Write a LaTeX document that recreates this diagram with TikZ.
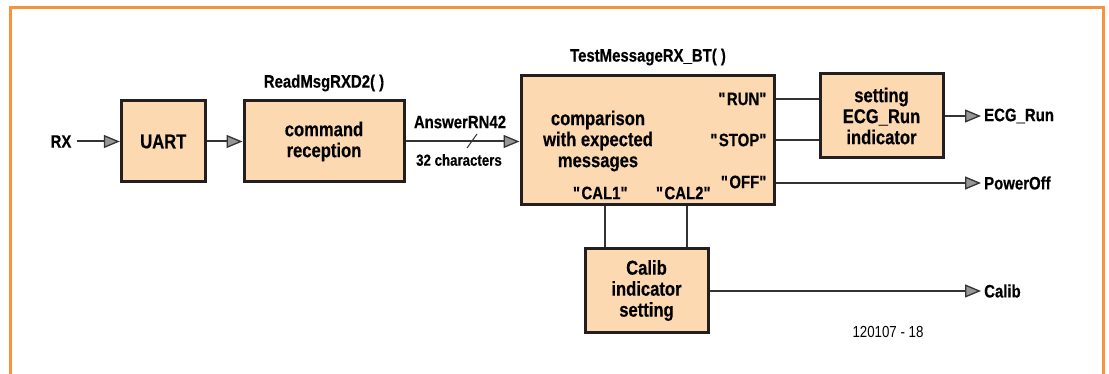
\documentclass[tikz,border=0pt]{standalone}
\usepackage{fontspec}
\setmainfont{Liberation Sans}[FakeStretch=0.83,BoldFeatures={FakeBold=0.4}]
\usepackage{tikz}
\usetikzlibrary{calc,positioning,arrows.meta}
\definecolor{peach}{RGB}{252,217,177}
\definecolor{framorange}{RGB}{247,146,62}
\definecolor{inkdark}{RGB}{35,31,32}
\definecolor{wiregray}{RGB}{51,51,51}
\definecolor{tipgray}{RGB}{150,150,150}
\newcommand\qtd[1]{\textquotedbl#1\textquotedbl}

\begin{document}
\begin{tikzpicture}[x=1pt,y=-1pt,
    blk/.style={draw=inkdark,line width=3pt,fill=peach,align=center,inner sep=0pt,
      font=\bfseries\fontsize{20}{21}\selectfont},
    lbl/.style={font=\bfseries\fontsize{18}{20}\selectfont,inner sep=0pt},
    outlbl/.style={lbl,anchor=west,inner sep=3pt},
    wire/.style={draw=wiregray,line width=2pt},
    sig/.style={wire,-{Triangle[length=16pt,width=13pt,fill=tipgray,line width=1.3pt]}}]
  \useasboundingbox (0,0) rectangle (1109,374);
  \draw[framorange,line width=3pt] (10.5,380) -- (10.5,7.5) -- (1103,7.5) -- (1103,380);

  \node[blk,minimum width=84pt,minimum height=81pt] (uart) at (163.3,141.5) {UART};
  \node[blk,minimum width=160pt,minimum height=81pt] (cmd) at (324,141.5) {command\\reception};
  \node[blk,minimum width=253pt,minimum height=129pt] (cmp) at (647.5,140.5) {};
  \node[blk,minimum width=123pt,minimum height=84pt] (set) at (881.5,116) {setting\\ECG\_Run\\indicator};
  \node[blk,minimum width=123pt,minimum height=83pt] (cal) at (646.5,290.5) {Calib\\indicator\\setting};

  \node[lbl] (rx) at (61,141.5) {RX};
  \node[lbl] (readlbl) at (324,83) {ReadMsgRXD2( )};
  \node[lbl] (testlbl) at (648,57) {TestMessageRX\_BT( )};
  \node[lbl] (answer) at (460,122) {AnswerRN42};
  \node[lbl,font=\bfseries\fontsize{16}{18}\selectfont] (chars) at (459,160) {32 characters};
  \node[blk,draw=none,fill=none] (cmptxt) at (598,141) {comparison\\with expected\\messages};
  \node[lbl,anchor=east] (run) at (768,99) {\qtd{RUN}};
  \node[lbl,anchor=east] (stop) at (768,140) {\qtd{STOP}};
  \node[lbl,anchor=east] (off) at (768,182) {\qtd{OFF}};
  \node[lbl] (cal1) at (601,193) {\qtd{CAL1}};
  \node[lbl] (cal2) at (684,193) {\qtd{CAL2}};
  \node[outlbl] (ecg) at (981,116) {ECG\_Run};
  \node[outlbl] (poff) at (981,183) {PowerOff};
  \node[outlbl] (calout) at (981,291) {Calib};
  \node[font=\fontsize{16}{18}\selectfont,inner sep=0pt] (fignum) at (888,332) {120107 - 18};

  \draw[sig] ([xshift=5pt]rx.east) -- (uart.west);
  \draw[sig] (uart) -- (cmd);
  \draw[sig] (cmd.east) -- (cmd.east -| cmp.west);
  \coordinate (slash) at (472,141);
  \draw[wire,line width=1pt] ([shift={(-5,7)}]slash) -- ([shift={(5,-7)}]slash);
  \draw[wire] (run.east -| cmp.east) -- (run.east -| set.west);
  \draw[wire] (stop.east -| cmp.east) -- (stop.east -| set.west);
  \draw[sig] (cmp.east |- poff.west) -- (poff.west);
  \draw[sig] (set.east |- ecg.west) -- (ecg.west);
  \draw[wire] ([xshift=4pt]cal1.center |- cmp.south) -- ([xshift=4pt]cal1.center |- cal.north);
  \draw[wire] ([xshift=3pt]cal2.center |- cmp.south) -- ([xshift=3pt]cal2.center |- cal.north);
  \draw[sig] (cal.east |- calout.west) -- (calout.west);
\end{tikzpicture}
\end{document}
